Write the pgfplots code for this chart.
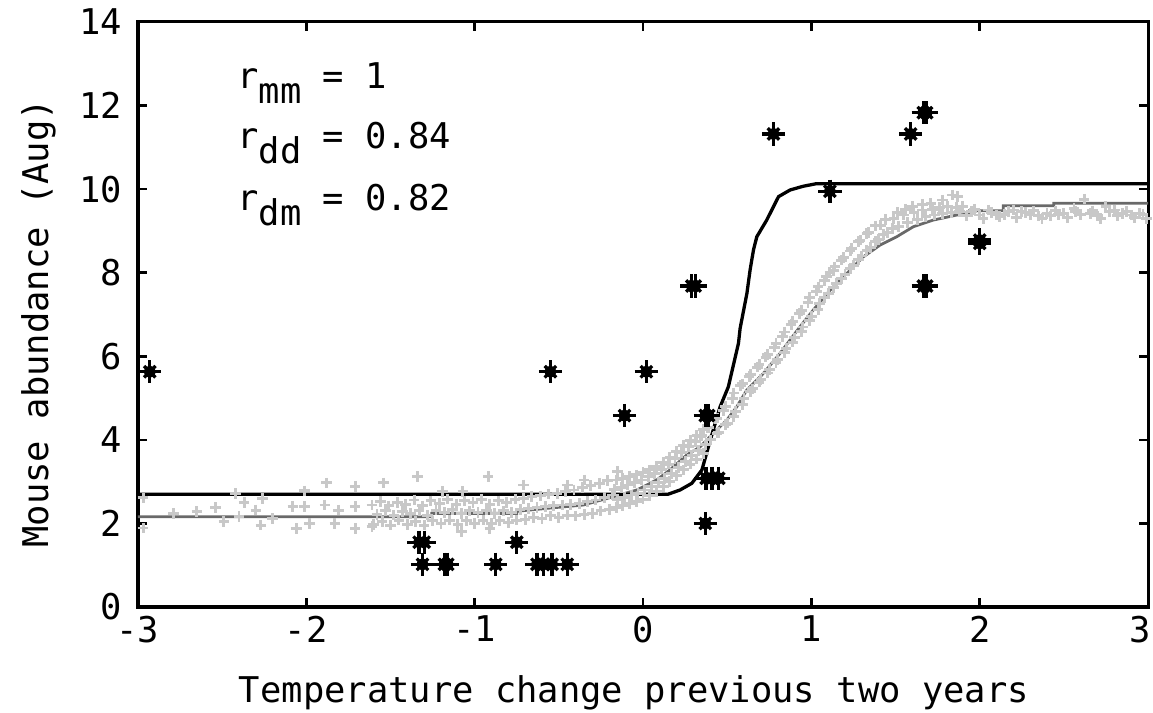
\documentclass[border=0pt]{standalone}
\usepackage{fontspec}
\setmainfont{DejaVu Sans Mono}
\usepackage{pgfplots}
\pgfplotsset{compat=1.18}

\definecolor{crossgray}{RGB}{200,200,200}
\definecolor{linegray}{RGB}{105,105,105}

% observed abundance
\pgfplotstableread{
x y
-2.93 5.63
-1.33 1.55
-1.30 1.55
-1.31 1.02
-1.18 1.02
-1.16 1.02
-0.875 1.02
-0.75 1.55
-0.63 1.02
-0.59 1.02
-0.54 1.02
-0.45 1.02
-0.55 5.63
0.02 5.63
-0.11 4.58
0.37 4.58
0.39 4.58
0.375 3.08
0.41 3.08
0.45 3.08
0.37 2.00
0.29 7.68
0.31 7.68
0.775 11.32
1.11 9.95
1.59 11.32
1.665 11.83
1.685 11.83
1.665 7.68
1.685 7.68
2.00 8.70
2.00 8.78
}\stars

% simulated values
\pgfplotstableread{
x y
-2.97 2.61
-2.97 1.89
-2.79 2.24
-2.65 2.28
-2.54 2.38
-2.49 2.04
-2.42 2.72
-2.40 2.16
-2.37 2.50
-2.30 2.32
-2.27 1.96
-2.26 2.60
-2.20 2.12
-2.08 2.40
-2.06 1.88
-2.01 2.78
-2.01 2.40
-1.98 2.00
-1.89 2.44
-1.88 2.97
-1.83 2.00
-1.81 2.32
-1.71 2.89
-1.71 2.40
-1.71 1.88
-1.61 1.92
-1.54 2.97
-1.34 3.12
-1.19 2.76
-1.08 1.80
-1.07 2.76
-0.92 3.12
-0.91 1.88
-0.71 2.92
-0.45 2.92
-0.35 3.04
-0.15 3.24
-1.60 1.98
-1.58 2.22
-1.61 2.44
-1.55 2.05
-1.53 2.30
-1.56 2.52
-1.50 1.96
-1.48 2.20
-1.51 2.42
-1.45 2.08
-1.43 2.28
-1.46 2.50
-1.40 1.98
-1.38 2.24
-1.41 2.46
-1.35 2.04
-1.33 2.30
-1.36 2.56
-1.30 1.96
-1.28 2.20
-1.31 2.42
-1.25 2.06
-1.23 2.32
-1.26 2.54
-1.20 2.00
-1.18 2.26
-1.21 2.48
-1.15 2.08
-1.13 2.34
-1.16 2.58
-1.10 1.98
-1.08 2.24
-1.11 2.46
-1.05 2.06
-1.03 2.30
-1.06 2.54
-1.00 2.00
-0.98 2.26
-1.01 2.50
-0.95 2.08
-0.93 2.32
-0.96 2.58
-0.90 2.00
-0.88 2.24
-0.91 2.46
-0.85 2.06
-0.83 2.30
-0.86 2.54
-0.80 2.02
-0.78 2.26
-0.81 2.50
-0.75 2.08
-0.73 2.34
-0.76 2.58
-0.70 2.10
-0.68 2.36
-0.71 2.60
-0.65 2.14
-0.63 2.38
-0.66 2.64
-0.60 2.12
-0.58 2.40
-0.61 2.66
-0.55 2.18
-0.53 2.42
-0.56 2.70
-0.50 2.14
-0.48 2.44
-0.51 2.72
-0.45 2.20
-0.43 2.46
-0.46 2.76
-0.40 2.18
-0.38 2.48
-0.41 2.80
-0.35 2.22
-0.33 2.52
-0.36 2.86
-0.30 2.24
-0.28 2.56
-0.31 2.90
-0.25 2.30
-0.23 2.62
-0.26 2.96
-0.20 2.34
-0.18 2.68
-0.21 3.02
-0.16 2.38
-0.15 2.58
-0.17 2.82
-0.16 3.04
-0.12 2.42
-0.11 2.62
-0.13 2.86
-0.12 3.08
-0.08 2.48
-0.07 2.68
-0.09 2.92
-0.08 3.12
-0.04 2.52
-0.03 2.72
-0.05 2.98
-0.04 3.16
0.00 2.58
0.01 2.80
-0.01 3.04
0.00 3.22
0.04 2.66
0.05 2.88
0.03 3.12
0.04 3.28
0.08 2.76
0.09 2.98
0.07 3.20
0.08 3.36
0.12 2.88
0.13 3.08
0.11 3.30
0.12 3.46
0.16 3.00
0.17 3.20
0.15 3.42
0.16 3.58
0.20 3.14
0.21 3.34
0.19 3.56
0.20 3.72
0.24 3.28
0.25 3.48
0.23 3.70
0.24 3.86
0.28 3.42
0.29 3.62
0.27 3.84
0.28 3.98
0.32 3.54
0.33 3.74
0.31 3.96
0.32 4.10
0.36 3.68
0.37 3.88
0.35 4.10
0.36 4.24
0.34 4.09
0.40 4.00
0.44 4.16
0.38 4.30
0.39 4.30
0.45 4.18
0.49 4.36
0.43 4.50
0.44 4.52
0.50 4.40
0.54 4.56
0.48 4.70
0.49 4.80
0.55 4.68
0.59 4.84
0.53 4.98
0.54 5.12
0.60 5.00
0.64 5.16
0.58 5.30
0.59 5.34
0.65 5.22
0.69 5.38
0.63 5.52
0.64 5.56
0.70 5.44
0.74 5.60
0.68 5.74
0.69 5.80
0.75 5.68
0.79 5.84
0.73 5.98
0.74 6.04
0.80 5.92
0.84 6.08
0.78 6.22
0.79 6.30
0.85 6.18
0.89 6.34
0.83 6.48
0.84 6.58
0.90 6.44
0.94 6.60
0.88 6.76
0.89 6.84
0.95 6.70
0.99 6.86
0.93 7.02
0.94 7.10
1.00 6.96
1.04 7.12
0.98 7.28
0.99 7.40
1.05 7.26
1.03 7.56
1.08 7.40
1.04 7.66
1.10 7.50
1.08 7.82
1.13 7.64
1.11 8.00
1.09 7.90
1.15 7.74
1.13 8.06
1.18 7.86
1.14 8.14
1.20 7.96
1.18 8.30
1.23 8.10
1.19 8.36
1.25 8.18
1.23 8.52
1.28 8.32
1.24 8.58
1.30 8.40
1.28 8.74
1.33 8.54
1.29 8.78
1.35 8.60
1.33 8.94
1.38 8.74
1.34 8.96
1.40 8.80
1.38 9.12
1.43 8.92
1.41 9.14
1.45 8.96
1.44 9.28
1.48 9.06
1.49 9.30
1.52 9.10
1.51 9.44
1.55 9.38
1.57 9.20
1.56 9.52
1.61 9.44
1.63 9.28
1.60 9.58
1.66 9.50
1.68 9.34
1.66 9.64
1.72 9.52
1.73 9.38
1.71 9.66
1.76 9.56
1.78 9.42
1.78 9.74
1.81 9.58
1.83 9.44
1.84 9.86
1.86 9.56
1.87 9.82
1.88 9.46
1.90 9.58
1.92 9.36
1.95 9.46
1.97 9.52
2.00 9.38
2.02 9.30
2.05 9.50
2.07 9.44
2.10 9.38
2.12 9.34
2.15 9.40
2.17 9.46
2.20 9.50
2.22 9.32
2.25 9.46
2.27 9.44
2.30 9.38
2.32 9.48
2.35 9.36
2.37 9.30
2.40 9.42
2.42 9.36
2.45 9.48
2.47 9.40
2.50 9.42
2.52 9.32
2.56 9.54
2.57 9.46
2.60 9.40
2.62 9.76
2.66 9.42
2.67 9.48
2.70 9.36
2.72 9.30
2.75 9.58
2.77 9.46
2.80 9.50
2.82 9.36
2.85 9.42
2.87 9.46
2.90 9.38
2.92 9.32
2.95 9.42
2.97 9.40
2.99 9.30
}\sims

\begin{document}
\begin{tikzpicture}
\useasboundingbox (-1.915,-1.471) rectangle (14.085,8.423);
\begin{axis}[
    at={(0,0)}, anchor=south west,
    scale only axis,
    width=14.016cm, height=8.118cm,
    xmin=-3, xmax=3, ymin=0, ymax=14,
    xtick={-3,-2,-1,0,1,2,3},
    xticklabels={-3,-2,-1,0,1,2,\makebox[0pt]{\hspace*{-0.22cm}3}},
    ytick={0,2,4,6,8,10,12,14},
    yticklabels={0,2,4,6,8,10,12,14},
    tick align=inside,
    major tick length=0.13cm,
    axis line style={line width=1.2pt},
    every tick/.style={black, line width=1pt},
    tick label style={font=\fontsize{14}{14}\selectfont},
    yticklabel style={xshift=-0.1cm},
    xlabel={Temperature change previous two years},
    ylabel={Mouse abundance (Aug)},
    label style={font=\fontsize{14}{14}\selectfont},
    xlabel style={at={(axis description cs:0.491,-0.164)}, anchor=base},
    ylabel style={at={(axis description cs:-0.089,0.485)}, anchor=base},
    clip=false,
]
\addplot[only marks, mark=+, mark size=2.1pt, color=crossgray,
    mark options={line width=1.15pt}] table {\sims};

\addplot[linegray, line width=1.1pt] coordinates {
(-3,2.16) (-1.255,2.16) (-1.255,2.24) (-0.75,2.24) (-0.75,2.29)
(-0.572,2.36) (-0.355,2.44) (-0.176,2.64) (-0.037,2.80) (0.081,3.04)
(0.160,3.28) (0.260,3.64) (0.339,3.83) (0.418,4.16) (0.497,4.47)
(0.557,4.79) (0.616,5.19) (0.715,5.59) (0.814,6.07) (0.933,6.71)
(1.012,7.11) (1.111,7.58) (1.210,7.98) (1.309,8.38) (1.408,8.66)
(1.507,8.86) (1.606,9.10) (1.725,9.26) (1.864,9.38) (1.94,9.40)
(1.94,9.48) (2.14,9.48) (2.14,9.60) (2.44,9.60) (2.44,9.66) (3,9.66)};

\addplot[black, line width=1.3pt] coordinates {
(-3,2.70) (0.15,2.70) (0.22,2.80) (0.29,2.96) (0.35,3.28) (0.40,4.0)
(0.458,4.79) (0.507,5.27) (0.567,6.31) (0.577,6.67) (0.617,7.5)
(0.636,8.06) (0.656,8.54) (0.676,8.86) (0.735,9.26) (0.805,9.82)
(0.874,9.98) (0.953,10.07) (1.03,10.13) (3,10.13)};

\addplot[only marks, mark=+, mark size=4.6pt, black,
    mark options={line width=1.3pt}] table {\stars};
\addplot[only marks, mark=x, mark size=3.2pt, black,
    mark options={line width=1.3pt}] table {\stars};
\addplot[only marks, mark=*, mark size=2.2pt, black] table {\stars};

\node[anchor=base west, font=\fontsize{14}{14}\selectfont, inner sep=0pt]
    at (axis cs:-2.412,12.42) {r\raisebox{-0.8ex}{mm} = 1};
\node[anchor=base west, font=\fontsize{14}{14}\selectfont, inner sep=0pt]
    at (axis cs:-2.412,10.98) {r\raisebox{-0.8ex}{dd} = 0.84};
\node[anchor=base west, font=\fontsize{14}{14}\selectfont, inner sep=0pt]
    at (axis cs:-2.412,9.50) {r\raisebox{-0.8ex}{dm} = 0.82};
\end{axis}
\end{tikzpicture}
\end{document}
